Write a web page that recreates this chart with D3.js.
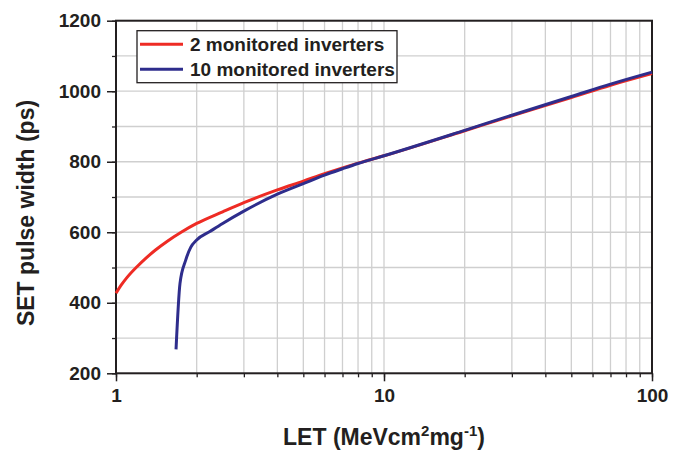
<!DOCTYPE html>
<html>
<head>
<meta charset="utf-8">
<script src="https://cdn.jsdelivr.net/npm/d3@7"></script>
<style>
  body { margin: 0; background: #fff; }
  text { font-family: "Liberation Sans", Arial, sans-serif; font-weight: bold; fill: #231f20; }
</style>
</head>
<body>
<div id="chart"></div>
<script>
// LET values (MeV cm2/mg) and SET pulse width (ps)
var letRed = [1, 1.05, 1.1, 1.2, 1.3, 1.4, 1.55, 1.75, 2, 2.5, 3, 4, 5, 6, 8, 10, 20, 30, 50, 70, 100];
var pwRed  = [427, 452, 472, 503, 528, 549, 574, 600, 625, 658, 684, 720, 745, 766, 796, 817, 888, 930, 982, 1017, 1050];

var letBlue = [1.675, 1.733, 1.82, 1.9, 2, 2.24, 2.5, 3, 4, 5, 6, 7, 8, 10, 20, 30, 50, 70, 100];
var pwBlue  = [268, 455, 521, 557, 578, 602, 625, 660, 708, 738, 762, 780, 795, 817, 889, 932, 985, 1020, 1054];

var seriesNames = ["2 monitored inverters", "10 monitored inverters"];
var seriesColors = ["#ee2b24", "#2e2d8c"];

var yTicks = [200, 400, 600, 800, 1000, 1200];
var xTicks = [1, 10, 100];

var W = 686, H = 451;
var pLeft = 116, pRight = 652, pTop = 20.7, pBottom = 373.3;

var svg = d3.select("#chart").append("svg")
	.attr("width", W)
	.attr("height", H);

var x = d3.scaleLog().domain([1, 100]).range([pLeft, pRight]);
var y = d3.scaleLinear().domain([200, 1200]).range([pBottom, pTop]);

// all log subdivisions between 1 and 100
var xMinor = [];
for (let d = 1; d < 100; d *= 10) {
	for (let k = 1; k < 10; ++k) xMinor.push(d * k);
}
xMinor.push(100);
var yMinor = d3.range(200, 1201, 100);

// grid
var grid = svg.append("g").attr("class", "grid");
grid.selectAll("line.v").data(xMinor).enter().append("line")
	.attr("x1", d => x(d)).attr("x2", d => x(d))
	.attr("y1", pTop).attr("y2", pBottom)
	.attr("stroke", "#cfcfcf").attr("stroke-width", 1.3);
grid.selectAll("line.h").data(yMinor).enter().append("line")
	.attr("x1", pLeft).attr("x2", pRight)
	.attr("y1", d => y(d)).attr("y2", d => y(d))
	.attr("stroke", "#cfcfcf").attr("stroke-width", 1.3);

// axes
svg.append("g").attr("transform", "translate(0," + pBottom + ")")
	.call(d3.axisBottom(x).tickValues(xMinor).tickSize(4).tickFormat(""))
	.call(g => g.select(".domain").remove())
	.call(g => g.selectAll("line").attr("stroke", "#231f20").attr("stroke-width", 1.3));
svg.append("g").attr("transform", "translate(0," + pBottom + ")")
	.call(d3.axisBottom(x).tickValues(xTicks).tickSize(8).tickPadding(7).tickFormat(d3.format("d")))
	.call(g => g.select(".domain").remove())
	.call(g => g.selectAll("line").attr("stroke", "#231f20").attr("stroke-width", 1.5))
	.call(g => g.selectAll("text").attr("font-size", 19).attr("fill", "#231f20"));

svg.append("g").attr("transform", "translate(" + pLeft + ",0)")
	.call(d3.axisLeft(y).tickValues(yMinor).tickSize(4).tickFormat(""))
	.call(g => g.select(".domain").remove())
	.call(g => g.selectAll("line").attr("stroke", "#231f20").attr("stroke-width", 1.3));
svg.append("g").attr("transform", "translate(" + pLeft + ",0)")
	.call(d3.axisLeft(y).tickValues(yTicks).tickSize(9).tickPadding(6).tickFormat(d3.format("d")))
	.call(g => g.select(".domain").remove())
	.call(g => g.selectAll("line").attr("stroke", "#231f20").attr("stroke-width", 1.5))
	.call(g => g.selectAll("text").attr("font-size", 19).attr("fill", "#231f20"));

// frame
svg.append("rect")
	.attr("x", pLeft).attr("y", pTop)
	.attr("width", pRight - pLeft).attr("height", pBottom - pTop)
	.attr("fill", "none").attr("stroke", "#231f20").attr("stroke-width", 2);

// curves
var line = d3.line().x(d => x(d[0])).y(d => y(d[1])).curve(d3.curveMonotoneX);
var redData = d3.zip(letRed, pwRed);
var blueData = d3.zip(letBlue, pwBlue);
svg.append("path").datum(redData).attr("d", line)
	.attr("fill", "none").attr("stroke", seriesColors[0]).attr("stroke-width", 3);
svg.append("path").datum(blueData).attr("d", line)
	.attr("fill", "none").attr("stroke", seriesColors[1]).attr("stroke-width", 3);

// legend
var lg = svg.append("g");
lg.append("rect").attr("x", 137).attr("y", 30.7).attr("width", 260).attr("height", 52)
	.attr("fill", "#fff").attr("stroke", "#231f20").attr("stroke-width", 1.3);
seriesNames.forEach(function(name, i){
	var yy = 44.3 + i * 25;
	lg.append("line").attr("x1", 140).attr("x2", 183).attr("y1", yy).attr("y2", yy)
		.attr("stroke", seriesColors[i]).attr("stroke-width", 3);
	lg.append("text").attr("x", 190).attr("y", yy + 6.8).attr("font-size", 19).text(name);
});

// axis titles
svg.append("text")
	.attr("transform", "translate(34,213) rotate(-90)")
	.attr("text-anchor", "middle")
	.attr("font-size", 23)
	.text("SET pulse width (ps)");

var xt = svg.append("text")
	.attr("x", 384).attr("y", 445)
	.attr("text-anchor", "middle")
	.attr("font-size", 23);
xt.append("tspan").text("LET (MeVcm");
xt.append("tspan").attr("font-size", 15).attr("dy", -9).text("2");
xt.append("tspan").attr("dy", 9).text("mg");
xt.append("tspan").attr("font-size", 15).attr("dy", -9).text("-1");
xt.append("tspan").attr("dy", 9).text(")");
</script>
</body>
</html>
